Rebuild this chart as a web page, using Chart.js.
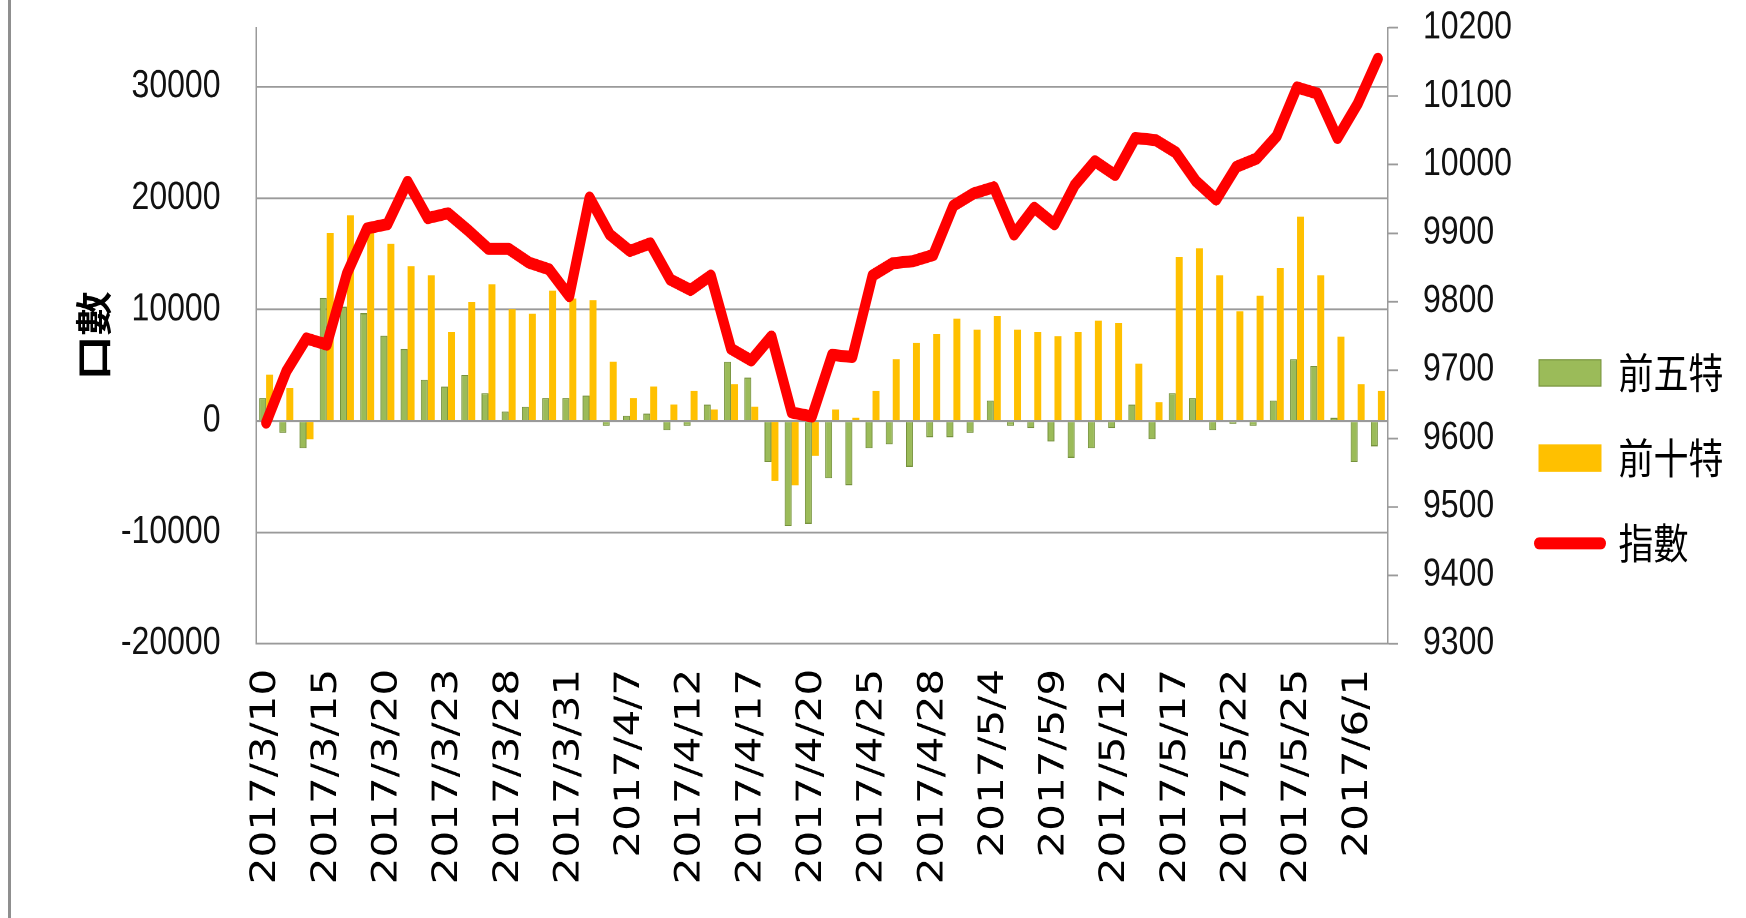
<!DOCTYPE html>
<html lang="zh-Hant">
<head>
<meta charset="utf-8">
<title>前五特 前十特 指數</title>
<script src="https://cdn.jsdelivr.net/npm/chart.js@4.4.1/dist/chart.umd.min.js"></script>
<style>
    html, body { margin: 0; padding: 0; background: #fff; overflow: hidden; }
    #frameLine { position: absolute; left: 8px; top: 0; width: 3px; height: 918px; background: #8f8f8f; }
    /* the source picture is stretched vertically, so the chart is drawn 765px tall and scaled up */
    #wrap { position: absolute; left: 0; top: 0; width: 1746px; height: 765px; transform: scaleY(1.2); transform-origin: 0 0; }
</style>
</head>
<body>
<div id="frameLine"></div>
<div id="wrap"><canvas id="oiChart" width="1746" height="765"></canvas></div>
<script>
// Trading days (x categories)
const dates = [
    '2017/3/10', '2017/3/13', '2017/3/14', '2017/3/15', '2017/3/16', '2017/3/17', '2017/3/20', '2017/3/21',
    '2017/3/22', '2017/3/23', '2017/3/24', '2017/3/27', '2017/3/28', '2017/3/29', '2017/3/30', '2017/3/31',
    '2017/4/5', '2017/4/6', '2017/4/7', '2017/4/10', '2017/4/11', '2017/4/12', '2017/4/13', '2017/4/14',
    '2017/4/17', '2017/4/18', '2017/4/19', '2017/4/20', '2017/4/21', '2017/4/24', '2017/4/25', '2017/4/26',
    '2017/4/27', '2017/4/28', '2017/5/2', '2017/5/3', '2017/5/4', '2017/5/5', '2017/5/8', '2017/5/9',
    '2017/5/10', '2017/5/11', '2017/5/12', '2017/5/15', '2017/5/16', '2017/5/17', '2017/5/18', '2017/5/19',
    '2017/5/22', '2017/5/23', '2017/5/24', '2017/5/25', '2017/5/26', '2017/5/31', '2017/6/1', '2017/6/2'
];

// 前五特 net open interest (口)
const top5 = [
    2060, -1070, -2460, 11030, 10270, 9680, 7650, 6450, 3710, 3090,
    4120, 2500, 850, 1290, 2060, 2060, 2280, -440, 480, 660,
    -850, -440, 1470, 5330, 3900, -3680, -9450, -9230, -5150, -5770,
    -2460, -2100, -4120, -1470, -1470, -1070, 1840, -440, -630, -1840,
    -3310, -2460, -630, 1470, -1650, 2500, 2060, -850, -260, -440,
    1840, 5550, 4930, 290, -3680, -2280
];

// 前十特 net open interest (口)
const top10 = [
    4150, 2940, -1650, 16900, 18470, 17000, 15900, 13900, 13090, 8010,
    10700, 12280, 10040, 9630, 11690, 11000, 10850, 5330, 2060, 3090,
    1470, 2680, 1030, 3310, 1290, -5400, -5770, -3130, 1030, 290,
    2680, 5550, 6990, 7790, 9190, 8200, 9410, 8200, 8010, 7610,
    8010, 9000, 8820, 5150, 1690, 14740, 15510, 13090, 9850, 11250,
    13710, 18350, 13090, 7570, 3310, 2680
];

// 指數 (right axis)
const indexClose = [
    9623, 9698, 9746, 9737, 9841, 9907, 9913, 9975, 9922, 9929,
    9904, 9877, 9877, 9857, 9847, 9808, 9952, 9898, 9874, 9885,
    9832, 9817, 9838, 9731, 9714, 9749, 9638, 9632, 9722, 9719,
    9838, 9856, 9859, 9868, 9940, 9958, 9967, 9898, 9937, 9913,
    9970, 10005, 9985, 10039, 10036, 10018, 9976, 9949, 9997, 10009,
    10042, 10113, 10104, 10039, 10089, 10155
];

// Tick labels of both value axes
const leftTicks = [-20000, -10000, 0, 10000, 20000, 30000];
const rightTicks = [9300, 9400, 9500, 9600, 9700, 9800, 9900, 10000, 10100, 10200];
const leftMin = -20000, leftMax = 35300;   // top of the left axis is not a labelled value
const rightMin = 9300, rightMax = 10200;
const labelEvery = 3;                       // every third date is labelled

const GREEN = '#9BBB59';
const GREEN_EDGE = '#76923C';
const YELLOW = '#FFC000';
const RED = '#FF0000';
const AXIS_GREY = '#9a9a9a';
const NUM_FONT = "'Liberation Sans', Arial, sans-serif";
const CJK_FONT = "'Noto Sans CJK TC', 'Noto Sans CJK SC', sans-serif";

// The legend sits a little closer to the right axis labels than Chart.js puts it
const legendNudge = {
    id: 'legendNudge',
    afterLayout(chart) {
        const lg = chart.legend;
        if (lg) {
            lg.left -= 11;
            lg.right -= 11;
        }
    }
};

function fixedTicks(values) {
    return (scale) => {
        scale.ticks = values.map(v => ({ value: v }));
    };
}

function buildChart() {
    if (typeof Chart === 'undefined') {
        console.error('Chart.js library is not loaded');
        return;
    }
    const ctx = document.getElementById('oiChart').getContext('2d');

    const data = {
        labels: dates,
        datasets: [
            {
                type: 'bar',
                label: '前五特',
                data: top5,
                yAxisID: 'y',
                backgroundColor: GREEN,
                borderColor: GREEN_EDGE,
                borderWidth: 1,
                order: 1
            },
            {
                type: 'bar',
                label: '前十特',
                data: top10,
                yAxisID: 'y',
                backgroundColor: YELLOW,
                borderWidth: 0,
                order: 1
            },
            {
                type: 'line',
                label: '指數',
                data: indexClose,
                yAxisID: 'y1',
                borderColor: RED,
                backgroundColor: RED,
                borderWidth: 10,
                borderJoinStyle: 'round',
                borderCapStyle: 'round',
                pointRadius: 0,
                tension: 0,
                fill: false,
                order: 0
            }
        ]
    };

    new Chart(ctx, {
        data: data,
        plugins: [legendNudge],
        options: {
            responsive: false,
            devicePixelRatio: 2,
            animation: false,
            layout: { padding: { top: 23.2, bottom: 24.6, left: 0, right: 1.5 } },
            datasets: {
                bar: { categoryPercentage: 0.69, barPercentage: 1.0 }
            },
            scales: {
                x: {
                    grid: { display: true, drawOnChartArea: false, drawTicks: false },
                    border: { display: true, color: AXIS_GREY, width: 1.5 },
                    ticks: {
                        autoSkip: false,
                        minRotation: 90,
                        maxRotation: 90,
                        padding: 21,
                        color: '#000',
                        font: { family: "'DejaVu Sans', sans-serif", size: 35 },
                        callback: function(value, index) {
                            return index % labelEvery === 0 ? this.getLabelForValue(value) : '';
                        }
                    },
                    afterFit: (scale) => { scale.height = 204; }
                },
                y: {
                    position: 'left',
                    min: leftMin,
                    max: leftMax,
                    afterBuildTicks: fixedTicks(leftTicks),
                    ticks: {
                        autoSkip: false,
                        padding: 35.5,
                        color: '#111',
                        font: { family: NUM_FONT, size: 32 },
                        callback: (v) => String(v)
                    },
                    grid: { color: AXIS_GREY, lineWidth: 1.6, drawTicks: false },
                    border: { display: true, color: AXIS_GREY, width: 1.5 },
                    title: {
                        display: true,
                        text: '口數',
                        color: '#000',
                        padding: { top: 71, bottom: 0 },
                        font: { family: CJK_FONT, size: 37, weight: 'bold' }
                    },
                    afterFit: (scale) => {
                        scale.width = 256;
                        scale.paddingTop = 0;
                        scale.paddingBottom = 0;
                    }
                },
                y1: {
                    position: 'right',
                    min: rightMin,
                    max: rightMax,
                    afterBuildTicks: fixedTicks(rightTicks),
                    ticks: {
                        autoSkip: false,
                        padding: 25,
                        color: '#111',
                        font: { family: NUM_FONT, size: 32 },
                        callback: (v) => String(v)
                    },
                    grid: {
                        drawOnChartArea: false,
                        drawTicks: true,
                        tickLength: 10,
                        tickColor: AXIS_GREY,
                        tickWidth: 1.5
                    },
                    border: { display: true, color: AXIS_GREY, width: 1.5 },
                    afterFit: (scale) => {
                        scale.width = 126;
                        scale.paddingTop = 0;
                        scale.paddingBottom = 0;
                    }
                }
            },
            plugins: {
                tooltip: { enabled: false },
                legend: {
                    position: 'right',
                    align: 'center',
                    labels: {
                        usePointStyle: true,
                        pointStyleWidth: 62,
                        boxHeight: 22,
                        padding: 36,
                        color: '#000',
                        font: { family: CJK_FONT, size: 35 },
                        generateLabels: (chart) => chart.data.datasets.map((ds, i) => ({
                            text: ds.label,
                            datasetIndex: i,
                            fillStyle: ds.type === 'line' ? RED : ds.backgroundColor,
                            strokeStyle: ds.type === 'line' ? RED : (ds.borderWidth ? ds.borderColor : ds.backgroundColor),
                            lineWidth: ds.type === 'line' ? 10 : 1,
                            lineCap: 'round',
                            pointStyle: ds.type === 'line' ? 'line' : 'rect',
                            hidden: !chart.isDatasetVisible(i)
                        }))
                    }
                }
            }
        }
    });
}

buildChart();
</script>
</body>
</html>
